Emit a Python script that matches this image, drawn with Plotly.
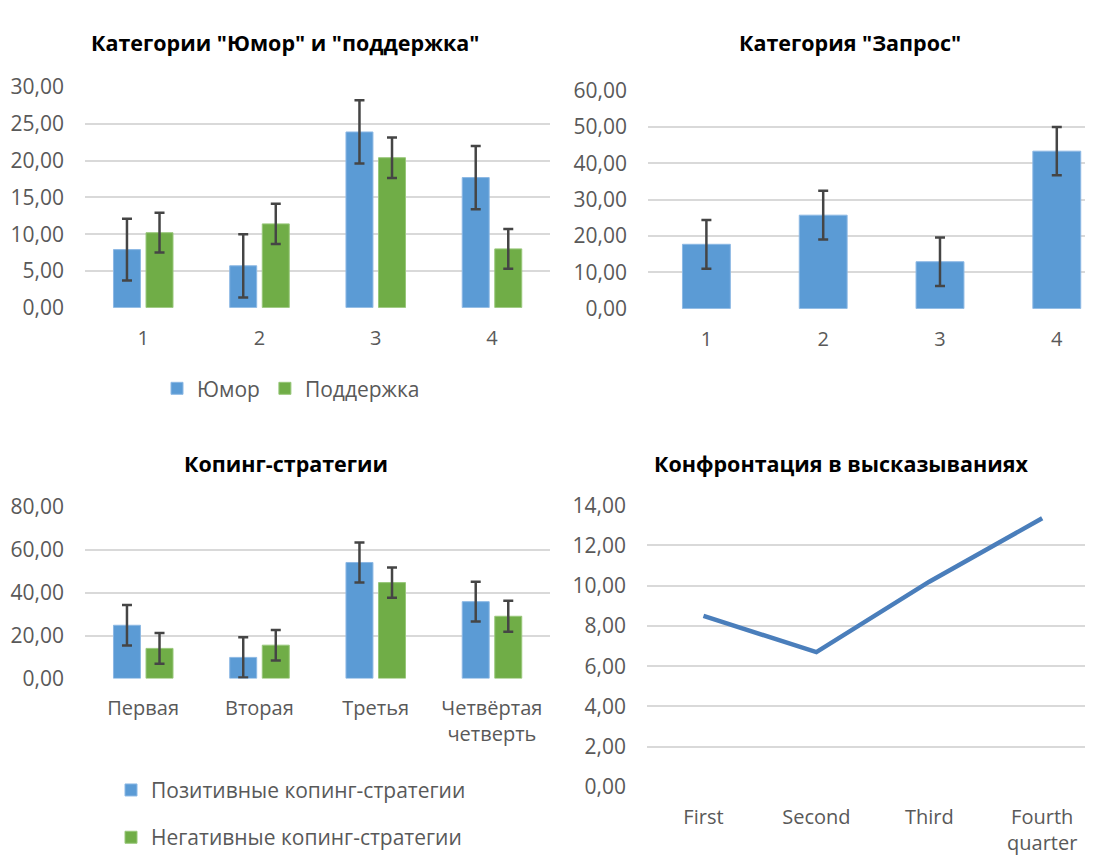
import plotly.graph_objects as go

# ---------------- data ----------------
cats_top = ["1", "2", "3", "4"]
humor = [7.9, 5.7, 23.9, 17.7]
humor_err = [4.2, 4.3, 4.3, 4.3]
support = [10.2, 11.4, 20.4, 8.0]
support_err = [2.7, 2.75, 2.75, 2.7]

request = [17.7, 25.7, 12.9, 43.3]
request_err = [6.7, 6.7, 6.7, 6.65]

quarters_ru = ["Первая", "Вторая", "Третья", "Четвёртая<br>четверть"]
positive = [24.8, 9.8, 54.1, 35.8]
positive_err = [9.4, 9.4, 9.3, 9.3]
negative = [14.0, 15.5, 44.7, 29.0]
negative_err = [7.2, 7.1, 7.1, 7.2]

quarters_en = ["First", "Second", "Third", "Fourth<br>quarter"]
confrontation = [8.5, 6.7, 10.2, 13.35]

titles = ['Категории "Юмор" и "поддержка"', 'Категория "Запрос"',
          'Копинг-стратегии', 'Конфронтация в высказываниях']

# ---------------- style ----------------
PAGE_OFF = 8  # default body margin of the html page
W, H = 1093 - PAGE_OFF, 866 - PAGE_OFF
FONT = "Open Sans"
BLUE = "#5b9bd5"
GREEN = "#70ad47"
ERR = "#454545"
GRID = "#d9d9d9"
TICK = "#595959"

def px_x(p):
    return (p - PAGE_OFF) / W

def px_y(p):
    return 1 - (p - PAGE_OFF) / H

def err(vals):
    return dict(type="data", array=vals, visible=True, color=ERR, thickness=2.5, width=5)

fig = go.Figure()

# Top-left
fig.add_trace(go.Bar(x=cats_top, y=humor, name="Юмор", marker=dict(color=BLUE, line=dict(color="#8cb8e4", width=1)),
                     width=0.232, offset=-0.255, error_y=err(humor_err), xaxis="x", yaxis="y", legend="legend"))
fig.add_trace(go.Bar(x=cats_top, y=support, name="Поддержка", marker=dict(color=GREEN, line=dict(color="#98c77a", width=1)),
                     width=0.232, offset=0.025, error_y=err(support_err), xaxis="x", yaxis="y", legend="legend"))
# Top-right
fig.add_trace(go.Bar(x=cats_top, y=request, name="Запрос", marker=dict(color=BLUE, line=dict(color="#8cb8e4", width=1)),
                     width=0.41, error_y=err(request_err), xaxis="x2", yaxis="y2", showlegend=False))
# Bottom-left
fig.add_trace(go.Bar(x=quarters_ru, y=positive, name="Позитивные копинг-стратегии",
                     marker=dict(color=BLUE, line=dict(color="#8cb8e4", width=1)),
                     width=0.232, offset=-0.255, error_y=err(positive_err), xaxis="x3", yaxis="y3",
                     legend="legend2", legendgroup="p"))
fig.add_trace(go.Bar(x=quarters_ru, y=negative, name="Негативные копинг-стратегии",
                     marker=dict(color=GREEN, line=dict(color="#98c77a", width=1)),
                     width=0.232, offset=0.025, error_y=err(negative_err), xaxis="x3", yaxis="y3",
                     legend="legend2", legendgroup="n"))
# Bottom-right
fig.add_trace(go.Scatter(x=quarters_en, y=confrontation, mode="lines", name="Конфронтация",
                         line=dict(color="#4a7ebb", width=4.5), xaxis="x4", yaxis="y4", showlegend=False))

xtickfont = dict(family=FONT, size=20, color=TICK)
ytickfont = dict(family=FONT, size=21, color=TICK)

def xax(d0, d1, rng):
    return dict(domain=[px_x(d0), px_x(d1)], range=rng, type="category", showgrid=False, zeroline=False,
                showline=False, ticks="", tickfont=xtickfont, ticklabelstandoff=16, fixedrange=True)

def yax(d0, d1, rng, dt):
    return dict(domain=[px_y(d0), px_y(d1)], range=rng, dtick=dt, tick0=0, tickformat=".2f",
                showgrid=True, gridcolor=GRID, gridwidth=2, zeroline=False, showline=False,
                ticks="", tickfont=ytickfont, ticklabelstandoff=20, fixedrange=True)

fig.update_layout(
    width=W, height=H,
    margin=dict(l=0, r=0, t=0, b=0),
    paper_bgcolor="white", plot_bgcolor="white",
    separators=", ",
    barmode="overlay",
    font=dict(family=FONT, color=TICK),
    xaxis=dict(xax(85, 550, [-0.5, 3.5]), anchor="y"),
    yaxis=dict(yax(302.3, 74.3, [0, 30], 5), anchor="x"),
    xaxis2=dict(xax(648, 1093, [-0.5, 3.31]), anchor="y2"),
    yaxis2=dict(yax(303.3, 77.7, [0, 60], 10), anchor="x2"),
    xaxis3=dict(xax(85, 550, [-0.5, 3.5]), anchor="y3"),
    yaxis3=dict(yax(685.5, 508.3, [0, 80], 20), anchor="x3"),
    xaxis4=dict(xax(647, 1093, [-0.5, 3.45]), anchor="y4"),
    yaxis4=dict(yax(797.7, 506.5, [0, 14], 2), anchor="x4"),
    legend=dict(orientation="h", x=px_x(157), y=px_y(386), xanchor="left", yanchor="middle",
                font=dict(family=FONT, size=21, color=TICK), bgcolor="rgba(0,0,0,0)"),
    legend2=dict(orientation="v", x=px_x(111), y=px_y(780), xanchor="left", yanchor="top",
                 font=dict(family=FONT, size=21, color=TICK), tracegroupgap=17, bgcolor="rgba(0,0,0,0)"),
)

title_pos = [(285, 28), (850, 28), (286, 463), (841, 463)]
for t, (cx, cy) in zip(titles, title_pos):
    fig.add_annotation(text="<b>" + t + "</b>", x=px_x(cx), y=px_y(cy), xref="paper", yref="paper",
                       showarrow=False, xanchor="center", yanchor="middle",
                       font=dict(family=FONT, size=21.5, color="#000000"))

fig.write_html("out.html")
